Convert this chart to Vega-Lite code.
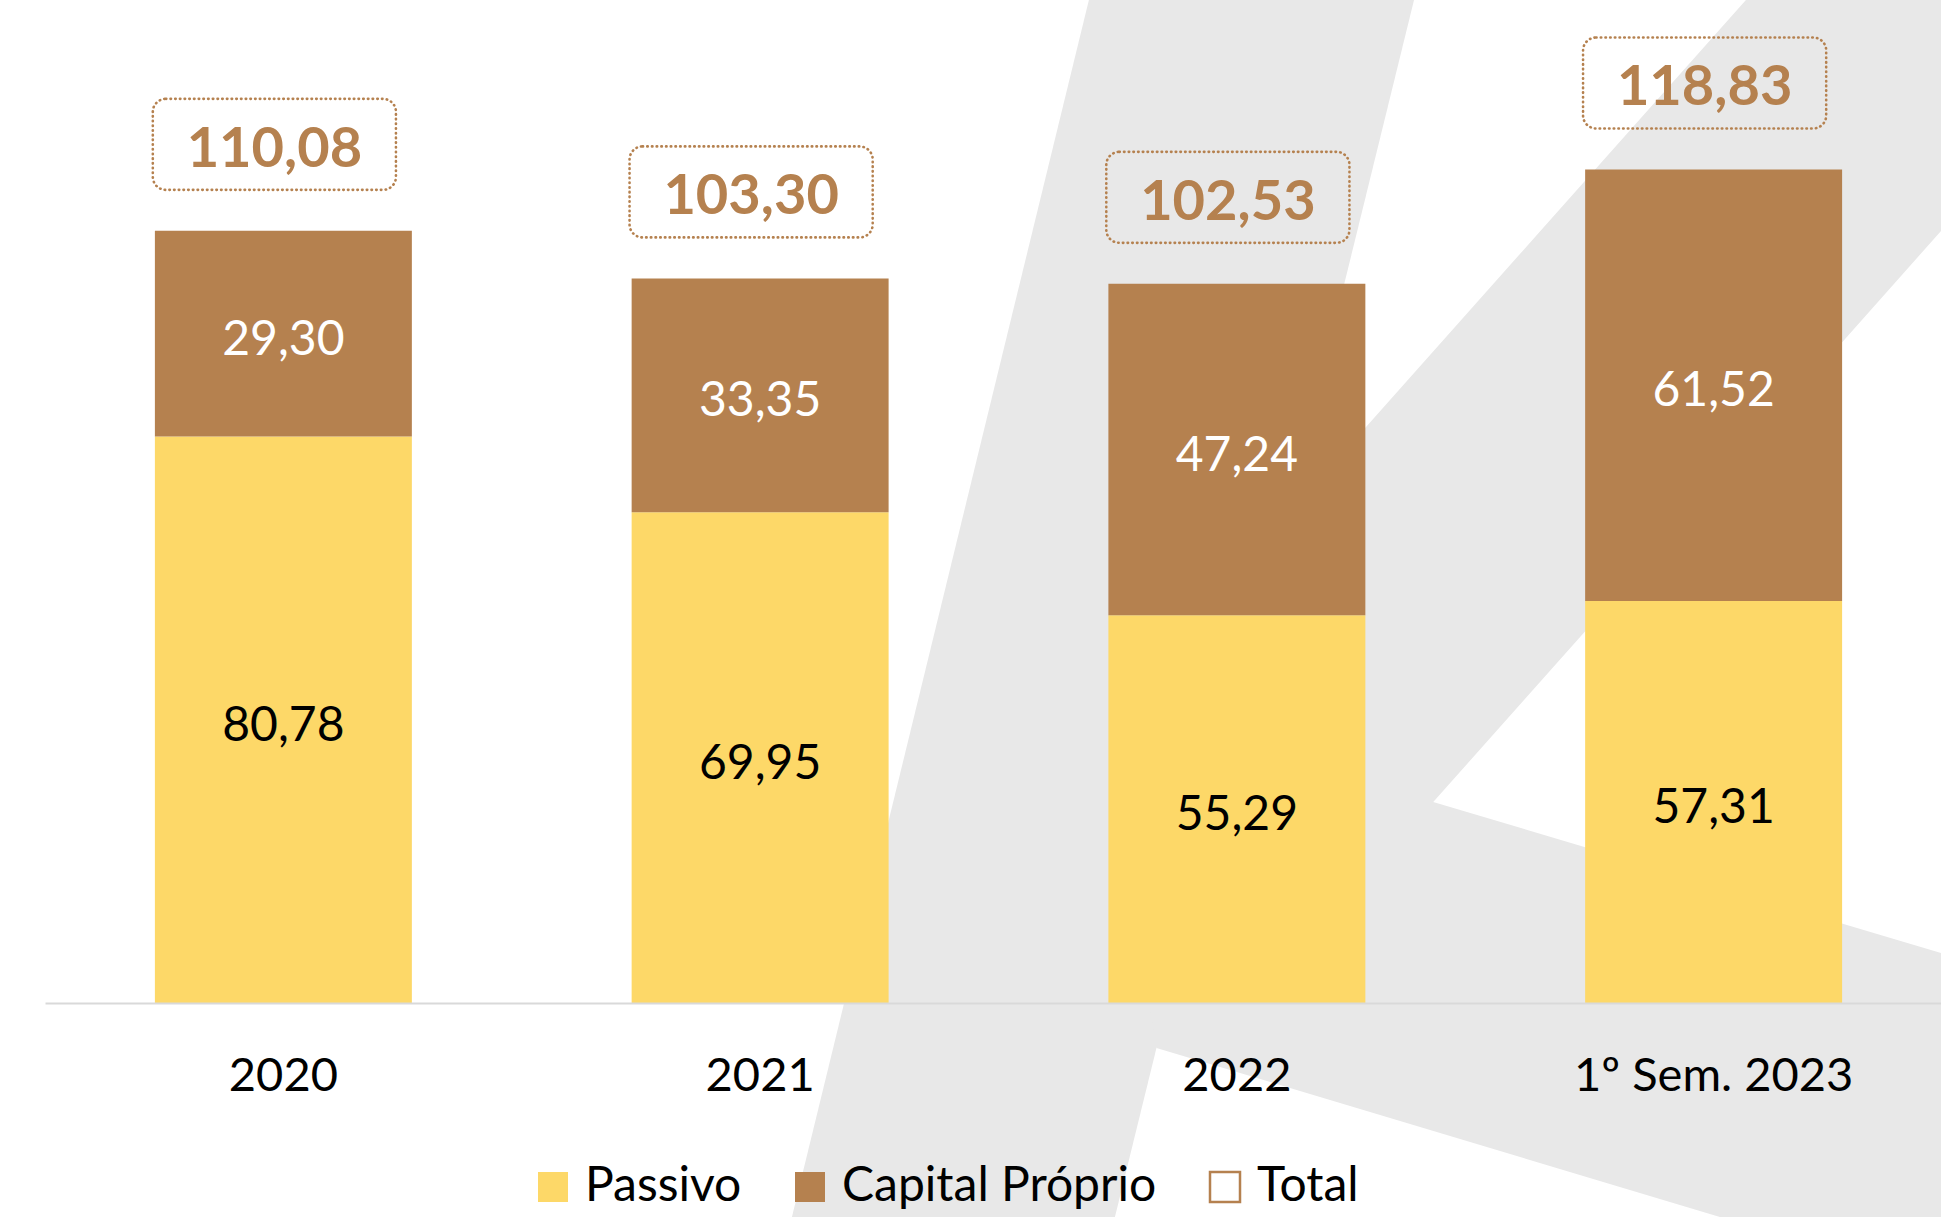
{
  "$schema": "https://vega.github.io/schema/vega-lite/v6.json",
  "width": 1896,
  "height": 982,
  "autosize": {"type": "none"},
  "padding": {"left": 45, "top": 21, "right": 0, "bottom": 214},
  "background": "#ffffff",
  "config": {
    "view": {"stroke": null},
    "font": "Lato",
    "locale": {"number": {"decimal": ",", "thousands": ".", "grouping": [3], "currency": ["", " €"]}}
  },
  "datasets": {
    "bars": [
      {"cat": "2020", "serie": "Passivo", "value": 80.78},
      {"cat": "2020", "serie": "Capital Próprio", "value": 29.30},
      {"cat": "2021", "serie": "Passivo", "value": 69.95},
      {"cat": "2021", "serie": "Capital Próprio", "value": 33.35},
      {"cat": "2022", "serie": "Passivo", "value": 55.29},
      {"cat": "2022", "serie": "Capital Próprio", "value": 47.24},
      {"cat": "1º Sem. 2023", "serie": "Passivo", "value": 57.31},
      {"cat": "1º Sem. 2023", "serie": "Capital Próprio", "value": 61.52}
    ],
    "totals": [
      {"cat": "2020", "total": 110.08},
      {"cat": "2021", "total": 103.30},
      {"cat": "2022", "total": 102.53},
      {"cat": "1º Sem. 2023", "total": 118.83}
    ],
    "watermark": [
      {"piece": "stem", "gy": 0, "gx": 56.10, "gx2": 72.85},
      {"piece": "stem", "gy": 100, "gx": 40.80, "gx2": 57.44},
      {"piece": "arm", "gy": 0, "gx": 89.95, "gx2": 100},
      {"piece": "arm", "gy": 18.98, "gx": 79.36, "gx2": 100},
      {"piece": "arm", "gy": 42.34, "gx": 66.33, "gx2": 86.99},
      {"piece": "arm", "gy": 65.90, "gx": 60.70, "gx2": 73.84},
      {"piece": "arm", "gy": 78.31, "gx": 58.79, "gx2": 100},
      {"piece": "arm", "gy": 86.11, "gx": 59.58, "gx2": 100},
      {"piece": "arm", "gy": 100, "gx": 88.61, "gx2": 100}
    ]
  },
  "layer": [
    {
      "data": {"name": "watermark"},
      "mark": {"type": "area", "orient": "horizontal", "color": "#e8e8e8", "opacity": 1},
      "encoding": {
        "y": {"field": "gy", "type": "quantitative", "scale": {"domain": [1.7256, 82.416], "reverse": true, "nice": false, "zero": false}, "axis": null},
        "x": {"field": "gx", "type": "quantitative", "stack": null, "scale": {"domain": [2.318, 100], "nice": false, "zero": false}, "axis": null},
        "x2": {"field": "gx2"},
        "detail": {"field": "piece", "type": "nominal"}
      }
    },
    {
      "data": {"name": "bars"},
      "mark": {"type": "bar", "width": {"band": 0.539}},
      "encoding": {
        "x": {
          "field": "cat", "type": "nominal", "sort": null,
          "scale": {"domain": ["2020", "2021", "2022", "1º Sem. 2023"], "range": [0, 1907], "paddingInner": 0, "paddingOuter": 0},
          "axis": {"title": null, "domain": true, "domainColor": "#d9d9d9", "domainWidth": 2, "ticks": false, "tickSize": 0, "grid": false, "labelFont": "Lato", "labelFontSize": 47, "labelColor": "#000000", "labelPadding": 87, "labelBaseline": "alphabetic", "labelAngle": 0, "labelLimit": 800, "zindex": 1}
        },
        "y": {"field": "value", "type": "quantitative", "stack": "zero", "scale": {"domain": [0, 140], "nice": false}, "axis": null},
        "fill": {
          "field": "serie", "type": "nominal",
          "scale": {"domain": ["Passivo", "Capital Próprio", "Total"], "range": ["#FDD868", "#B5814F", "transparent"]},
          "legend": {
            "title": null, "orient": "none", "legendX": 484, "legendY": 1142, "direction": "horizontal",
            "padding": 0, "labelFont": "Lato", "labelFontSize": 48, "labelColor": "#000000", "labelLimit": 600,
            "labelOffset": 8, "columnPadding": 44, "symbolSize": 900, "symbolType": "square", "symbolStrokeWidth": 2.5
          }
        },
        "stroke": {
          "field": "serie", "type": "nominal",
          "scale": {"domain": ["Passivo", "Capital Próprio", "Total"], "range": ["transparent", "transparent", "#B5814F"]},
          "legend": {
            "title": null, "orient": "none", "legendX": 484, "legendY": 1142, "direction": "horizontal",
            "padding": 0, "labelFont": "Lato", "labelFontSize": 48, "labelColor": "#000000", "labelLimit": 600,
            "labelOffset": 8, "columnPadding": 44, "symbolSize": 900, "symbolType": "square", "symbolStrokeWidth": 2.5
          }
        },
        "order": {"field": "serie", "sort": "descending"}
      }
    },
    {
      "data": {"name": "bars"},
      "transform": [
        {"window": [{"op": "sum", "field": "value", "as": "cum"}], "groupby": ["cat"], "sort": [{"field": "serie", "order": "descending"}], "frame": [null, 0]},
        {"window": [{"op": "sum", "field": "cum", "as": "cum2"}], "groupby": ["cat"], "sort": [{"field": "serie", "order": "descending"}], "frame": [null, 0]}
      ],
      "mark": {"type": "text", "font": "Lato", "fontSize": 48, "baseline": "middle", "align": "center", "dy": 7},
      "encoding": {
        "x": {"field": "cat", "type": "nominal", "sort": null, "scale": {"domain": ["2020", "2021", "2022", "1º Sem. 2023"], "range": [0, 1907], "paddingInner": 0, "paddingOuter": 0}, "axis": null},
        "y": {"field": "cum2", "type": "quantitative", "scale": {"domain": [0, 280], "nice": false}, "axis": null},
        "text": {"field": "value", "type": "quantitative", "format": ".2f"},
        "color": {"condition": {"test": "datum.serie === 'Capital Próprio'", "value": "#ffffff"}, "value": "#000000"}
      }
    },
    {
      "data": {"name": "totals"},
      "mark": {"type": "bar", "width": {"band": 0.51}, "xOffset": -9, "yOffset": -132, "y2Offset": -41, "filled": false, "stroke": "#B5814F", "strokeWidth": 2.6, "strokeDash": [0.5, 4.2], "strokeCap": "round", "cornerRadius": 13},
      "encoding": {
        "x": {"field": "cat", "type": "nominal", "sort": null, "scale": {"domain": ["2020", "2021", "2022", "1º Sem. 2023"], "range": [0, 1907], "paddingInner": 0, "paddingOuter": 0}, "axis": null},
        "y": {"field": "total", "type": "quantitative", "scale": {"domain": [0, 140], "nice": false}, "axis": null},
        "y2": {"field": "total"}
      }
    },
    {
      "data": {"name": "totals"},
      "mark": {"type": "text", "font": "Lato", "fontWeight": "bold", "fontSize": 56, "baseline": "alphabetic", "align": "center", "dy": -64, "dx": -9, "color": "#B5814F"},
      "encoding": {
        "x": {"field": "cat", "type": "nominal", "sort": null, "scale": {"domain": ["2020", "2021", "2022", "1º Sem. 2023"], "range": [0, 1907], "paddingInner": 0, "paddingOuter": 0}, "axis": null},
        "y": {"field": "total", "type": "quantitative", "scale": {"domain": [0, 140], "nice": false}, "axis": null},
        "text": {"field": "total", "type": "quantitative", "format": ".2f"}
      }
    }
  ],
  "resolve": {"scale": {"x": "independent", "y": "independent"}}
}
